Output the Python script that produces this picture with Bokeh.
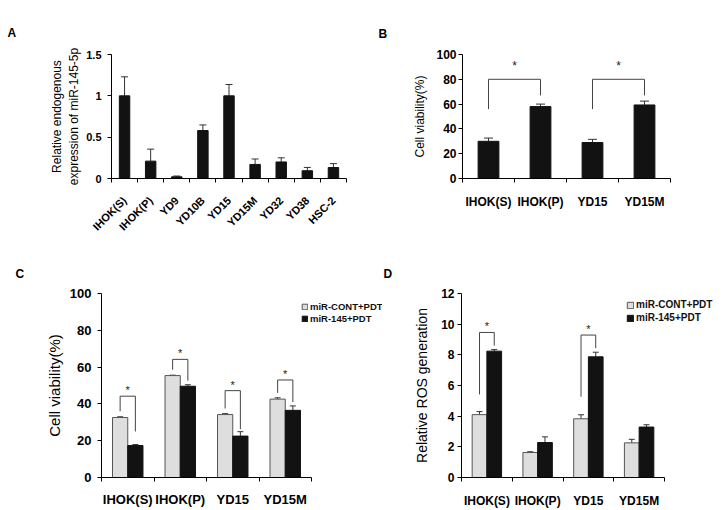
from bokeh.plotting import figure
from bokeh.layouts import row, column
from bokeh.models import (Range1d, FixedTicker, ColumnDataSource, Whisker, TeeHead,
                          Legend, LegendItem)
from bokeh.core.properties import value
from bokeh.embed import file_html
from bokeh.resources import INLINE

FONT = "Liberation Sans"

# ---------------- data ----------------
# Panel A
a_cats = ["IHOK(S)", "IHOK(P)", "YD9", "YD10B", "YD15", "YD15M", "YD32", "YD38", "HSC-2"]
a_vals = [1.0, 0.21, 0.02, 0.58, 1.0, 0.17, 0.20, 0.094, 0.133]
a_errs = [0.23, 0.145, 0.01, 0.068, 0.137, 0.066, 0.05, 0.04, 0.047]
a_yticks = [0, 0.5, 1, 1.5]
a_ytick_labels = ["0", "0.5", "1", "1.5"]

# Panel B
b_cats = ["IHOK(S)", "IHOK(P)", "YD15", "YD15M"]
b_vals = [30.0, 58.0, 29.0, 59.3]
b_errs = [2.6, 2.0, 2.6, 3.1]
b_yticks = [0, 20, 40, 60, 80, 100]
b_sig_left = [0, 2]
b_sig_right = [1, 3]
b_br_left = [56, 56]
b_br_top = [80, 80]
b_br_right = [67, 67]

# Panels C and D
cd_cats = ["IHOK(S)", "IHOK(P)", "YD15", "YD15M"]
series = ["miR-CONT+PDT", "miR-145+PDT"]

c_cont = [32.6, 55.4, 34.2, 42.6]
c_cont_err = [0.4, 0.2, 0.5, 0.7]
c_m145 = [17.4, 49.6, 22.5, 36.5]
c_m145_err = [0.5, 0.8, 2.4, 2.4]
c_yticks = [0, 20, 40, 60, 80, 100]
c_sig_groups = [0, 1, 2, 3]
c_br_left = [36.0, 58.6, 37.5, 46.0]
c_br_top = [44.2, 64.2, 47.2, 53.0]
c_br_right = [25.0, 52.6, 26.3, 41.0]

d_cont = [4.1, 1.63, 3.83, 2.26]
d_cont_err = [0.2, 0.05, 0.26, 0.23]
d_m145 = [8.24, 2.28, 7.87, 3.29]
d_m145_err = [0.1, 0.37, 0.3, 0.15]
d_yticks = [0, 2, 4, 6, 8, 10, 12]
d_sig_groups = [0, 2]
d_br_left = [5.42, 5.27]
d_br_top = [9.46, 9.29]
d_br_right = [8.6, 8.43]

# ---------------- styles ----------------
DARK = "#121212"
LIGHT = "#dedede"
ERR = "#333333"


def make_fig(width, height, left, right, top, bottom, cats, ymax, yticks, ylabels,
             tick_size, ylab, ylab_size, ylab_standoff, xrot=0.0, xstandoff=10,
             ystandoff=2, x_end=None):
    n = len(cats)
    xe = (n - 0.5) if x_end is None else x_end
    p = figure(width=width, height=height, x_range=Range1d(-0.5, xe),
               y_range=Range1d(0, ymax), output_backend="svg", toolbar_location=None,
               min_border_left=left, min_border_right=right,
               min_border_top=top, min_border_bottom=bottom)
    p.outline_line_color = None
    p.grid.visible = False
    p.background_fill_color = "white"
    p.border_fill_color = "white"

    xa = p.xaxis[0]
    xa.bounds = (-0.5, n - 0.5)
    xa.ticker = FixedTicker(ticks=list(range(n)),
                            minor_ticks=[i - 0.5 for i in range(n + 1)])
    xa.major_label_overrides = {i: c for i, c in enumerate(cats)}
    xa.major_tick_line_color = None
    xa.major_tick_out = 0
    xa.major_tick_in = 0
    xa.minor_tick_line_color = "black"
    xa.minor_tick_out = 4
    xa.minor_tick_in = 0
    xa.axis_line_color = "black"
    xa.major_label_text_font = FONT
    xa.major_label_text_font_style = "bold"
    xa.major_label_text_font_size = tick_size
    xa.major_label_text_color = "black"
    xa.major_label_standoff = xstandoff
    if xrot:
        xa.major_label_orientation = xrot

    ya = p.yaxis[0]
    ya.ticker = FixedTicker(ticks=yticks)
    ya.major_label_overrides = {t: l for t, l in zip(yticks, ylabels)}
    ya.major_tick_out = 4
    ya.major_tick_in = 0
    ya.minor_tick_line_color = None
    ya.axis_line_color = "black"
    ya.major_tick_line_color = "black"
    ya.major_label_text_font = FONT
    ya.major_label_text_font_style = "bold"
    ya.major_label_text_font_size = tick_size
    ya.major_label_text_color = "black"
    ya.major_label_standoff = ystandoff
    ya.axis_label = ylab
    ya.axis_label_text_font = FONT
    ya.axis_label_text_font_style = "normal"
    ya.axis_label_text_font_size = ylab_size
    ya.axis_label_text_color = "black"
    ya.axis_label_standoff = ylab_standoff
    return p


def add_err(p, xs, vals, errs, cap=7):
    src = ColumnDataSource(dict(x=xs, lo=vals, hi=[v + e for v, e in zip(vals, errs)]))
    w = Whisker(base="x", lower="lo", upper="hi", source=src, line_color=ERR,
                line_width=1, lower_head=None,
                upper_head=TeeHead(size=cap, line_color=ERR, line_width=1))
    p.add_layout(w)


def add_brackets(p, xl, xr, lefts, tops, rights, star_off, star_size="12px"):
    xs = [[a, a, b, b] for a, b in zip(xl, xr)]
    ys = [[l, t, t, r] for l, t, r in zip(lefts, tops, rights)]
    p.multi_line(xs=xs, ys=ys, line_color="#444444", line_width=1)
    p.text(x=[(a + b) / 2 for a, b in zip(xl, xr)], y=tops, text=["*"] * len(tops),
           text_align="center", text_baseline="middle", y_offset=star_off,
           text_font=value(FONT), text_font_size=star_size, text_color="#222222")


def panel_label(p, txt, offset, standoff):
    p.title.text = txt
    p.title.align = "left"
    p.title.offset = offset
    p.title.standoff = standoff
    p.title.text_font = FONT
    p.title.text_font_style = "bold"
    p.title.text_font_size = "12px"
    p.title.text_color = "black"


def make_legend(p, renderers, loc, font_size, glyph, spacing):
    leg = Legend(items=[LegendItem(label=s, renderers=[r]) for s, r in zip(series, renderers)],
                 location=loc, orientation="vertical", padding=0, margin=0,
                 spacing=spacing, glyph_width=glyph, glyph_height=glyph, label_standoff=2,
                 label_height=glyph, label_text_font=FONT, label_text_font_size=font_size,
                 label_text_font_style="bold", label_text_color="#111111",
                 border_line_color=None, background_fill_alpha=0)
    p.add_layout(leg)


# ---------------- Panel A ----------------
pa = make_fig(363, 250, 111, 17, 54, 68, a_cats, 1.5, a_yticks, a_ytick_labels,
              "11px", "Relative endogenous\nexpression of miR-145-5p", "12px", 2,
              xrot=0.785398, xstandoff=16, ystandoff=6)
ax = list(range(len(a_cats)))
pa.vbar(x=ax, top=a_vals, width=0.4, fill_color=DARK, line_color=DARK)
add_err(pa, ax, a_vals, a_errs, cap=7)
panel_label(pa, "A", -104, 30)

# ---------------- Panel B ----------------
pb = make_fig(363, 250, 99, 56, 49, 72, b_cats, 100, b_yticks, [str(t) for t in b_yticks],
              "12px", "Cell viability(%)", "12px", 6, xstandoff=12, ystandoff=2)
bx = list(range(len(b_cats)))
pb.vbar(x=bx, top=b_vals, width=0.4, fill_color=DARK, line_color=DARK)
add_err(pb, bx, b_vals, b_errs, cap=9)
add_brackets(pb, b_sig_left, b_sig_right, b_br_left, b_br_top, b_br_right, -13)
panel_label(pb, "B", -84, 27)

# ---------------- Panel C ----------------
# frame spans 101..382 px; 4 categories occupy 101..311 px (52.5 px each)
pc = make_fig(382, 260, 101, 0, 43, 27, cd_cats, 100, c_yticks, [str(t) for t in c_yticks],
              "13px", "Cell viability(%)", "15px", 4, xstandoff=10, ystandoff=6,
              x_end=-0.5 + 281 / 52.5)
cx = list(range(len(cd_cats)))
off = 0.145
cl = [x - off for x in cx]
cr = [x + off for x in cx]
r1 = pc.vbar(x=cl, top=c_cont, width=0.29, fill_color=LIGHT, line_color="#555555")
r2 = pc.vbar(x=cr, top=c_m145, width=0.29, fill_color=DARK, line_color=DARK)
add_err(pc, cl, c_cont, c_cont_err, cap=6)
add_err(pc, cr, c_m145, c_m145_err, cap=6)
add_brackets(pc, [cl[i] for i in c_sig_groups], [cr[i] for i in c_sig_groups],
             c_br_left, c_br_top, c_br_right, -6, "11px")
make_legend(pc, [r1, r2], (200, 153), "9.5px", 7, 1)
panel_label(pc, "C", -86, 26)

# ---------------- Panel D ----------------
# frame spans 79..342 px (local); 4 categories occupy 79..282 px (50.75 px each)
pd_ = make_fig(344, 260, 79, 2, 43, 31, cd_cats, 12, d_yticks, [str(t) for t in d_yticks],
               "12px", "Relative ROS generation", "14px", 8, xstandoff=12, ystandoff=3,
               x_end=-0.5 + 263 / 50.75)
dl = [x - off for x in cx]
dr = [x + off for x in cx]
s1 = pd_.vbar(x=dl, top=d_cont, width=0.29, fill_color=LIGHT, line_color="#555555")
s2 = pd_.vbar(x=dr, top=d_m145, width=0.29, fill_color=DARK, line_color=DARK)
add_err(pd_, dl, d_cont, d_cont_err, cap=6)
add_err(pd_, dr, d_m145, d_m145_err, cap=6)
add_brackets(pd_, [dl[i] for i in d_sig_groups], [dr[i] for i in d_sig_groups],
             d_br_left, d_br_top, d_br_right, -6, "11px")
make_legend(pd_, [s1, s2], (165, 154), "10px", 8, 2)
panel_label(pd_, "D", -78, 26)

layout = column(row(pa, pb, spacing=0), row(pc, pd_, spacing=0), spacing=0)

open("out.html", "w").write(file_html(layout, INLINE))
